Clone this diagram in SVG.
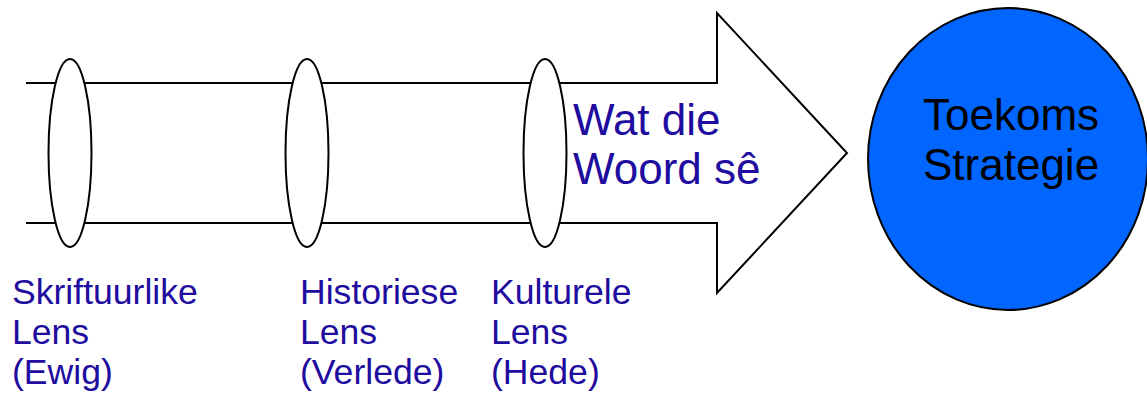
<svg xmlns="http://www.w3.org/2000/svg" width="1147" height="399" viewBox="0 0 1147 399">
<style>
.ln{fill:#fff;stroke:#000;stroke-width:2}
.lens{fill:#fff;stroke:#000;stroke-width:2}
.lbl{font-family:"Liberation Sans",Arial,sans-serif;font-size:35.6px;fill:#200c9e}
.big{font-family:"Liberation Sans",Arial,sans-serif;font-size:44px}
</style>
<rect width="1147" height="399" fill="#fff"/>
<g id="connectors">
<path class="ln" d="M26,83 H717 V13 L847,153 L717,293 V223 H26"/>
</g>
<g id="lens1"><ellipse class="lens" cx="70" cy="153" rx="21.5" ry="94"/></g>
<g id="lens2"><ellipse class="lens" cx="307" cy="153" rx="21.5" ry="94"/></g>
<g id="lens3"><ellipse class="lens" cx="545" cy="153" rx="21.5" ry="94"/></g>
<g id="arrow-label">
<text class="big" fill="#200c9e" x="573" y="135">Wat die</text>
<text class="big" fill="#200c9e" x="573" y="184">Woord sê</text>
</g>
<g id="future">
<ellipse cx="1008" cy="159" rx="140" ry="151" fill="#0066ff" stroke="#000" stroke-width="2"/>
<text class="big" fill="#000" x="923" y="130">Toekoms</text>
<text class="big" fill="#000" x="923" y="180">Strategie</text>
</g>
<g id="label1">
<text class="lbl" x="12" y="304">Skriftuurlike</text>
<text class="lbl" x="12" y="344">Lens</text>
<text class="lbl" x="12" y="384">(Ewig)</text>
</g>
<g id="label2">
<text class="lbl" x="300" y="304">Historiese</text>
<text class="lbl" x="300" y="344">Lens</text>
<text class="lbl" x="300" y="384">(Verlede)</text>
</g>
<g id="label3">
<text class="lbl" x="491" y="304">Kulturele</text>
<text class="lbl" x="491" y="344">Lens</text>
<text class="lbl" x="491" y="384">(Hede)</text>
</g>
</svg>
